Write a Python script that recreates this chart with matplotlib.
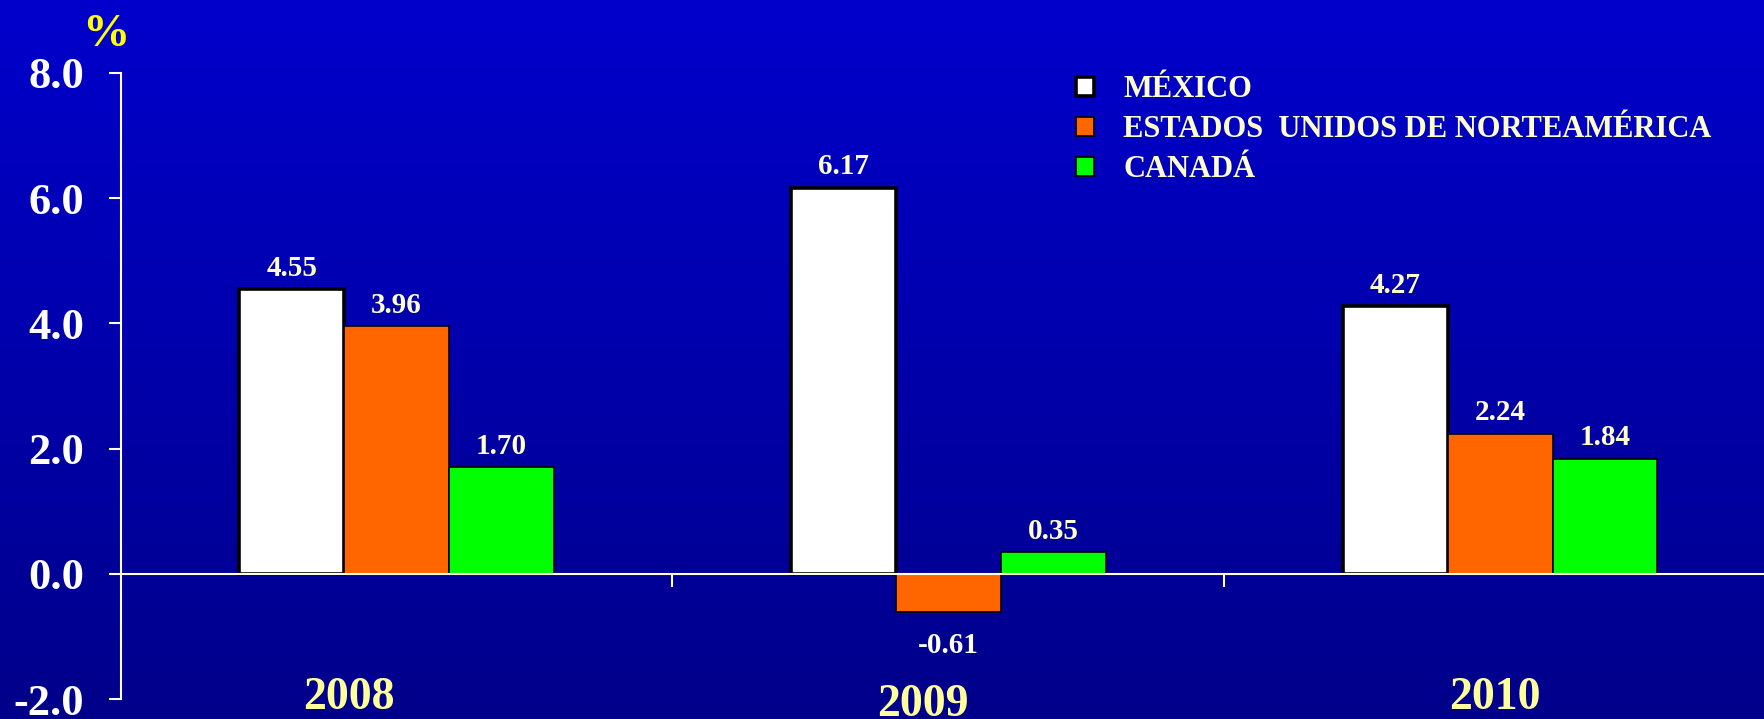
import numpy as np
import matplotlib.pyplot as plt
from matplotlib.colors import LinearSegmentedColormap
from matplotlib.patches import Patch

years = ['2008', '2009', '2010']
series = ['MÉXICO', 'ESTADOS  UNIDOS DE NORTEAMÉRICA', 'CANADÁ']
mexico = [4.55, 6.17, 4.27]
usa = [3.96, -0.61, 2.24]
canada = [1.70, 0.35, 1.84]
yticks = [-2.0, 0.0, 2.0, 4.0, 6.0, 8.0]

colors = ['#FFFFFF', '#FF6600', '#00FF00']
edge_w = [2.6, 1.2, 1.2]
label_col = '#FFFFCC'
serif = ['Liberation Serif', 'DejaVu Serif']

fig = plt.figure(figsize=(17.65, 7.19), dpi=100)

# background gradient
bg = fig.add_axes([0, 0, 1, 1])
cmap = LinearSegmentedColormap.from_list('bg', ['#0000CC', '#00008A'])
bg.imshow(np.linspace(0, 1, 256).reshape(-1, 1), aspect='auto', cmap=cmap,
          extent=[0, 1, 0, 1])
bg.axis('off')

ax = fig.add_axes([0.0683, 0.0278, 0.938, 0.8707])
ax.set_facecolor('none')

x = np.arange(len(years)) + 0.5
w = 0.19
for i, vals in enumerate([mexico, usa, canada]):
    pos = x + (i - 1) * w
    bars = ax.bar(pos, vals, w, color=colors[i], edgecolor='black',
                  linewidth=edge_w[i], zorder=3, label=series[i])
    for p, v in zip(pos, vals):
        off = 15 if v >= 0 else -24
        ax.annotate(f'{v:.2f}', (p, v), xytext=(0, off), textcoords='offset points',
                    ha='center', va='center', fontsize=21, fontweight='bold',
                    family=serif, color=label_col if v >= 0 else 'white', zorder=4)

ax.set_xlim(0, 3)
ax.set_ylim(-2, 8)

# spines and ticks
for s in ['top', 'right']:
    ax.spines[s].set_visible(False)
ax.spines['left'].set_color('white')
ax.spines['left'].set_linewidth(1.5)
ax.spines['bottom'].set_position(('data', 0))
ax.spines['bottom'].set_color('#FFFFDD')
ax.spines['bottom'].set_linewidth(1.5)
ax.spines['bottom'].set_zorder(5)

ax.set_yticks(yticks)
ax.set_yticklabels([f'{t:.1f}' for t in yticks])
ax.tick_params(axis='y', colors='white', length=9, width=1.5, pad=17,
               labelsize=32)
for lab in ax.get_yticklabels():
    lab.set_family(serif)
    lab.set_fontweight('bold')

ax.set_xticks([1, 2])
ax.set_xticklabels([])
ax.tick_params(axis='x', colors='white', length=9, width=1.5, direction='out')

# year labels
year_dx = [-0.086, -0.046, -0.01]
year_y = [-1.98, -2.09, -1.98]
for xi, yr, dx, yy in zip(x, years, year_dx, year_y):
    ax.text(xi + dx, yy, yr, ha='center', va='center', fontsize=33,
            fontweight='bold', family=serif, color='#FFFF99', clip_on=False)

# percent sign
fig.text(106 / 1765, 1 - 35 / 719, '%', ha='center', va='center', fontsize=34,
         fontweight='bold', family=serif, color='#FFFF00')

# legend
handles = [Patch(facecolor=c, edgecolor='black', linewidth=lw)
           for c, lw in zip(colors, edge_w)]
leg = fig.legend(handles, series, loc='upper left',
                 bbox_to_anchor=(1076 / 1765, 1 - 75 / 719), frameon=False,
                 prop={'family': serif, 'weight': 'bold', 'size': 22},
                 handlelength=0.6, handleheight=0.6, handletextpad=0.95,
                 labelspacing=0.36, borderpad=0, borderaxespad=0)
for t in leg.get_texts():
    t.set_color(label_col)

fig.savefig('out.png', dpi=100)
